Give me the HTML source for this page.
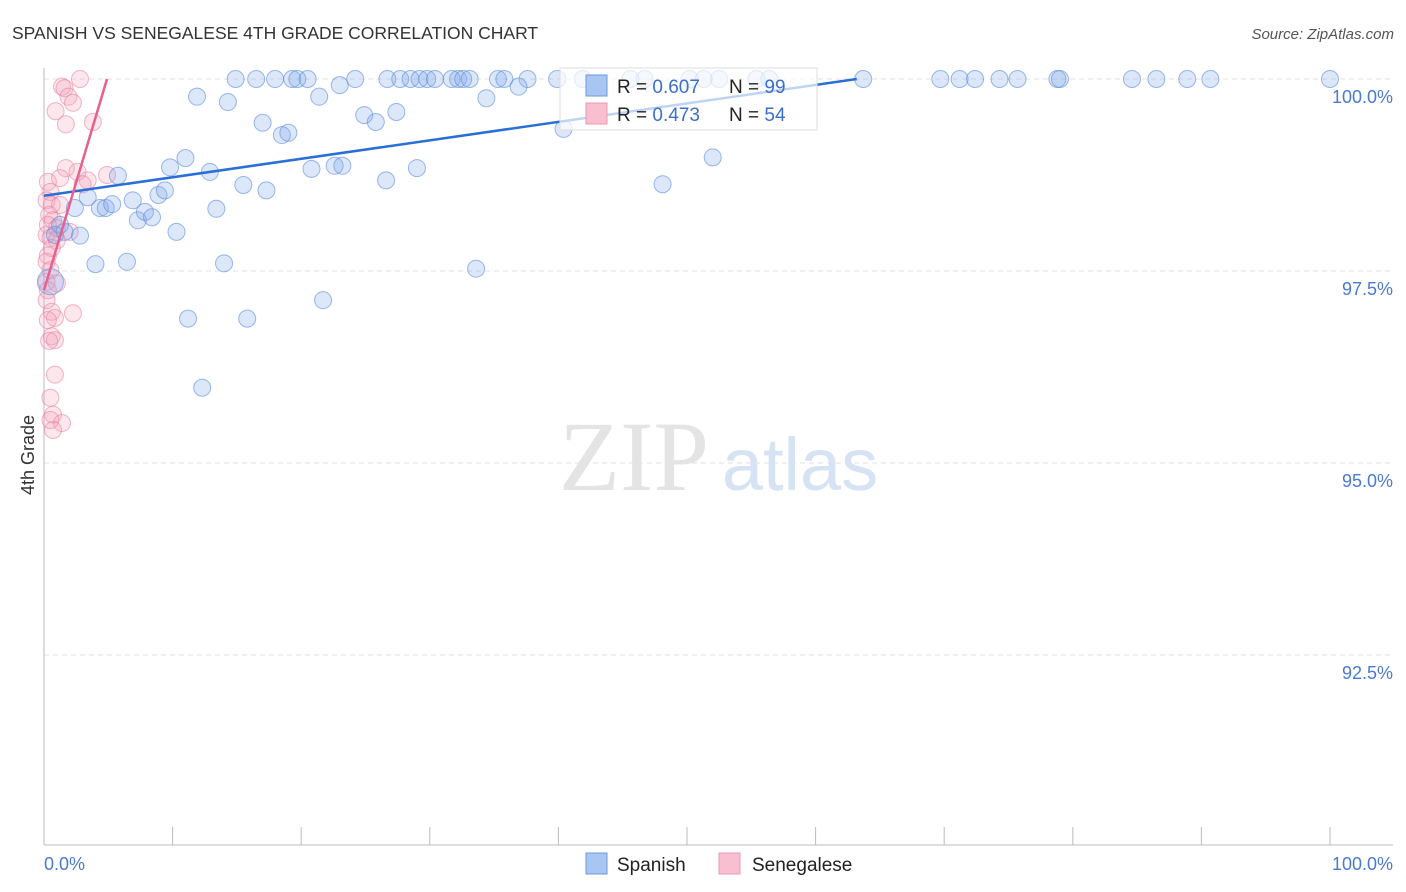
<!DOCTYPE html>
<html><head><meta charset="utf-8"><style>
body{margin:0;background:#fff;font-family:"Liberation Sans",sans-serif}
svg{display:block}
</style></head><body>
<svg id="c" width="1406" height="892" xmlns="http://www.w3.org/2000/svg">
<text x="12" y="39" font-size="17.5" fill="#333">SPANISH VS SENEGALESE 4TH GRADE CORRELATION CHART</text>
<text x="1394" y="39" font-size="15" fill="#555" font-style="italic" text-anchor="end">Source: ZipAtlas.com</text>
<text x="0" y="0" transform="translate(34,455) rotate(-90)" font-size="18" fill="#333" text-anchor="middle">4th Grade</text>
<g>
<text x="634" y="490" font-size="100" font-family="Liberation Serif,serif" fill="#e4e4e4" text-anchor="middle">ZIP</text>
<text x="800" y="490" font-size="74" fill="#d6e3f5" text-anchor="middle">atlas</text>
</g>
<g id="grid"></g><g id="axes"></g><g id="marks"></g>
<g>
<rect x="560" y="68" width="257" height="62" fill="#fff" fill-opacity="0.7" stroke="#ddd"/>
<rect x="586" y="75" width="21" height="21" fill="#a9c6f2" stroke="#6b9ae0"/>
<rect x="586" y="103" width="21" height="21" fill="#f8bfd0" stroke="#ec9ab4"/>
<text x="617" y="93" font-size="19" fill="#222">R = <tspan fill="#3a6fd0">0.607</tspan></text>
<text x="729" y="93" font-size="19" fill="#222">N = <tspan fill="#3a6fd0">99</tspan></text>
<text x="617" y="121" font-size="19" fill="#222">R = <tspan fill="#3a6fd0">0.473</tspan></text>
<text x="729" y="121" font-size="19" fill="#222">N = <tspan fill="#3a6fd0">54</tspan></text>
</g>
<g>
<rect x="586" y="853" width="21" height="21" fill="#a9c6f2" stroke="#6b9ae0"/>
<text x="617" y="871" font-size="19" fill="#222">Spanish</text>
<rect x="719" y="853" width="21" height="21" fill="#f8bfd0" stroke="#ec9ab4"/>
<text x="752" y="871" font-size="19" fill="#222">Senegalese</text>
</g>
<text x="44" y="870" font-size="18" fill="#4a7ad0">0.0%</text>
<text x="1393" y="870" font-size="18" fill="#4a7ad0" text-anchor="end">100.0%</text>
</svg>
<script>
const yTicks=[100,97.5,95,92.5];
const yTickLabels=["100.0%","97.5%","95.0%","92.5%"];
const spanishTopX=[14.9,16.5,17.97,19.3,19.7,20.5,24.2,26.7,27.7,28.5,29.2,29.8,30.4,31.7,32.2,32.6,33.1,35.3,35.8,37.6,39.9,41.9,45.6,46.7,50.2,51.3,52.5,55.4,56.4,63.7,69.7,71.2,72.4,74.3,75.7,78.8,79.0,84.6,86.5,88.9,90.7,100];
const spanishX=[11.9,14.3,21.4,23.0,34.4,36.9,17.0,18.5,19.0,24.9,25.8,27.4,40.4,9.8,11.0,12.9,15.5,17.3,20.8,22.6,23.2,26.6,29.0,48.1,52.0,5.75,6.9,8.9,9.4,4.35,4.8,5.3,3.4,2.4,7.3,7.85,8.4,1.25,2.8,10.3,13.4,4.0,6.45,14.0,33.6,21.7,11.2,15.8,12.3,0.5,0.85,1.6];
const spanishY=[99.77,99.70,99.77,99.92,99.75,99.90,99.43,99.27,99.30,99.53,99.44,99.57,99.35,98.85,98.97,98.79,98.62,98.55,98.83,98.87,98.87,98.68,98.84,98.63,98.98,98.74,98.42,98.49,98.55,98.32,98.32,98.37,98.46,98.32,98.16,98.27,98.20,98.10,97.96,98.01,98.31,97.59,97.62,97.60,97.53,97.12,96.88,96.88,95.98,97.36,97.97,98.01];
const senX=[2.8,1.4,1.6,1.9,2.25,0.9,1.7,3.8,1.7,2.6,1.25,3.4,3.0,4.9,0.3,0.5,0.2,0.6,1.25,0.4,0.7,0.2,0.5,1.0,0.3,0.2,0.5,0.2,1.0,0.3,2.25,0.6,0.85,0.3,0.6,0.85,0.4,0.85,0.5,0.7,0.5,1.4,0.7,0.2,0.6,1.0,2.0,0.3];
const senY=[100,99.9,99.88,99.77,99.69,99.58,99.41,99.44,98.84,98.79,98.71,98.68,98.63,98.75,98.66,98.53,98.42,98.36,98.36,98.23,98.16,97.97,97.93,97.90,97.70,97.62,97.51,97.36,97.34,97.25,96.95,96.97,96.89,96.86,96.65,96.60,96.59,96.15,95.85,95.63,95.56,95.52,95.43,97.12,97.80,98.06,98.01,98.10];
const spanishTrendX=[0,63.2], spanishTrendY=[98.48,100];
const senTrendX=[0,4.9], senTrendY=[97.25,100];
const NS="http://www.w3.org/2000/svg";
const sx=v=>44+v*12.86, sy=v=>79+(100-v)*76.8;
function mk(t,a,p){const e=document.createElementNS(NS,t);for(const k in a)e.setAttribute(k,a[k]);p.appendChild(e);return e;}
const grid=document.getElementById('grid'),axes=document.getElementById('axes'),marks=document.getElementById('marks');
yTicks.forEach((v,i)=>{
 const l=mk('line',{x1:44,x2:1393,y1:sy(v),y2:sy(v),stroke:'#e2e2e2','stroke-dasharray':'5,4'},grid);
 
 
 const t=mk('text',{x:1393,y:sy(v)+24,'font-size':18,fill:'#4a7ad0','text-anchor':'end'},grid);
 t.textContent=yTickLabels[i];
 
 
});
let a=mk('line',{x1:44,x2:44,y1:68,y2:845,stroke:'#bbb'},axes);


a=mk('line',{x1:44,x2:1393,y1:845,y2:845,stroke:'#bbb'},axes);


for(let i=0;i<=10;i++){const t=mk('line',{x1:sx(i*10),x2:sx(i*10),y1:827,y2:845,stroke:'#bbb'},axes);
 
 }
function dot(x,y,r,f,s,n){const c=mk('circle',{cx:sx(x),cy:sy(y),r:r,fill:f,stroke:s,'stroke-width':1},marks);
 
 }
senX.forEach((x,i)=>dot(x,senY[i],8.5,'rgba(245,160,185,0.25)','rgba(235,130,165,0.6)','senegalese-point'));
spanishTopX.forEach(x=>dot(x,100,8.5,'rgba(130,170,235,0.28)','rgba(90,140,220,0.6)','spanish-point'));
spanishX.forEach((x,i)=>dot(x,spanishY[i],i==49?13:8.5,'rgba(130,170,235,0.28)','rgba(90,140,220,0.6)','spanish-point'));
let tl=mk('line',{x1:sx(spanishTrendX[0]),y1:sy(spanishTrendY[0]),x2:sx(spanishTrendX[1]),y2:sy(spanishTrendY[1]),stroke:'#2a6fd6','stroke-width':2.5},marks);


tl=mk('line',{x1:sx(senTrendX[0]),y1:sy(senTrendY[0]),x2:sx(senTrendX[1]),y2:sy(senTrendY[1]),stroke:'#e8608e','stroke-width':2.5},marks);


</script>
</body></html>
